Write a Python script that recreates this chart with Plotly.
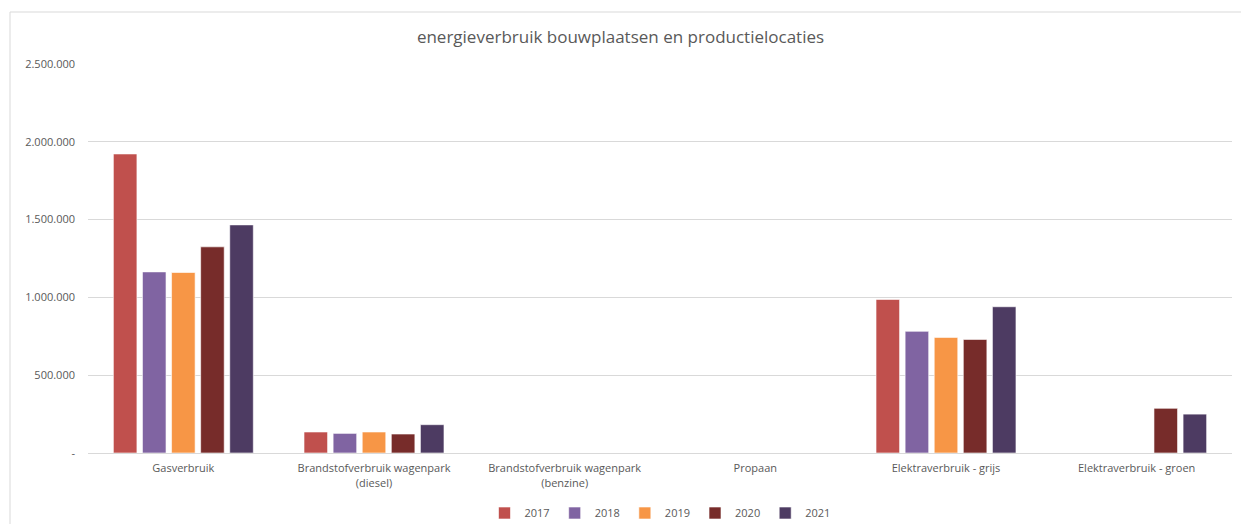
import plotly.graph_objects as go

categories = ["Gasverbruik", "Brandstofverbruik wagenpark<br>(diesel)",
              "Brandstofverbruik wagenpark<br>(benzine)", "Propaan",
              "Elektraverbruik - grijs", "Elektraverbruik - groen"]
years = ["2017", "2018", "2019", "2020", "2021"]
v2017 = [1922000, 135000, None, None, 987000, None]
v2018 = [1164000, 126000, None, None, 782000, None]
v2019 = [1160000, 135000, None, None, 743000, None]
v2020 = [1325000, 122000, None, None, 730000, 287000]
v2021 = [1466000, 182000, None, None, 940000, 250000]
series = [v2017, v2018, v2019, v2020, v2021]
colors = ["#C0504D", "#8064A2", "#F79646", "#772C2A", "#4D3B62"]

tickvals = [0, 500000, 1000000, 1500000, 2000000, 2500000]
ticktext = ["-", "500.000", "1.000.000", "1.500.000", "2.000.000", "2.500.000"]

FONT = "Open Sans"
fig = go.Figure()
for y, vals, c in zip(years, series, colors):
    fig.add_trace(go.Bar(x=categories, y=vals, name=y, marker_color=c,
                         marker_line_color="rgba(255,255,255,0.6)", marker_line_width=1))

L, R, T, B = 88, 9, 64, 71
pw, ph = 1241 - L - R, 524 - T - B
fig.update_layout(
    width=1241, height=524,
    margin=dict(l=L, r=R, t=T, b=B, autoexpand=False),
    paper_bgcolor="white", plot_bgcolor="white",
    barmode="group", bargap=0.237, bargroupgap=0.19,
    title=dict(text="energieverbruik bouwplaatsen en productielocaties",
               x=0.5, xanchor="center", y=1 - 37/524, yanchor="middle",
               font=dict(family=FONT, size=17, color="#595959")),
    font=dict(family=FONT, color="#595959", size=11),
    legend=dict(orientation="h", x=0.5, xanchor="center", y=-(513-453)/ph, yanchor="middle",
                font=dict(size=11, color="#595959"), itemwidth=30, traceorder="normal",
                bgcolor="rgba(0,0,0,0)"),
    showlegend=True,
)
fig.update_yaxes(range=[0, 2500000], tickvals=tickvals, ticktext=ticktext,
                 showgrid=True, gridcolor="#D9D9D9", gridwidth=1, zeroline=False,
                 showline=False, ticks="", ticklabelstandoff=12,
                 tickfont=dict(size=11, color="#595959"))
fig.update_xaxes(showline=True, linecolor="#D9D9D9", linewidth=1, ticks="",
                 ticklabelstandoff=5,
                 tickfont=dict(size=11, color="#595959"))

# chart border (only left and top edges visible in the crop)
fig.add_shape(type="rect", xref="paper", yref="paper",
              x0=(10 - L) / pw, x1=(1260 - L) / pw,
              y0=-(540 - (524 - B)) / ph, y1=((524 - B) - 12) / ph,
              line=dict(color="#D9D9D9", width=1), fillcolor="rgba(0,0,0,0)", layer="below")

fig.write_html("out.html")
